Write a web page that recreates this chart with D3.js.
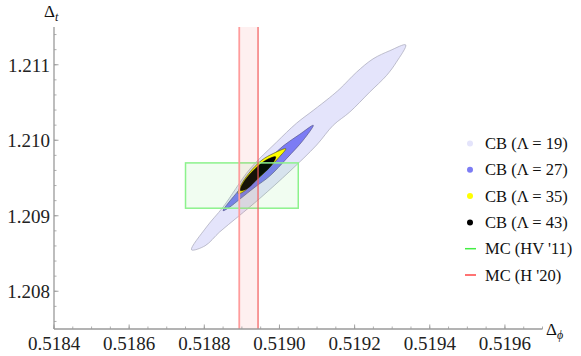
<!DOCTYPE html>
<html>
<head>
<meta charset="utf-8">
<script src="https://cdn.jsdelivr.net/npm/d3@7"></script>
<style>
  html, body { margin: 0; padding: 0; background: #fff; }
  svg { display: block; font-family: "Liberation Serif", "DejaVu Serif", serif; }
</style>
</head>
<body>
<figure id="plot" style="margin:0"></figure>
<script>
// bootstrap regions, (delta_phi, delta_t)
const lambda19 = [
  [0.518766, 1.208549], [0.518806, 1.208852], [0.518850, 1.209116], [0.518921, 1.209617],
  [0.518992, 1.209974], [0.519045, 1.210224], [0.519090, 1.210396], [0.519134, 1.210567],
  [0.519161, 1.210682], [0.519205, 1.210901], [0.519249, 1.211078], [0.519294, 1.211187],
  [0.519336, 1.211263], [0.519311, 1.211033], [0.519285, 1.210858], [0.519240, 1.210637],
  [0.519187, 1.210373], [0.519143, 1.210198], [0.519099, 1.209937], [0.519028, 1.209591],
  [0.518948, 1.209231], [0.518890, 1.208988], [0.518841, 1.208786], [0.518802, 1.208602]
];
const lambda27 = [
  [0.518850, 1.209067], [0.518890, 1.209327], [0.518930, 1.209551], [0.518969, 1.209736],
  [0.519009, 1.209921], [0.519054, 1.210079], [0.519090, 1.210198], [0.519063, 1.210000],
  [0.519020, 1.209763], [0.518974, 1.209525], [0.518935, 1.209380], [0.518895, 1.209222],
  [0.518868, 1.209116]
];
const lambda35 = [
  [0.518890, 1.209294], [0.518896, 1.209393], [0.518919, 1.209565], [0.518953, 1.209736],
  [0.518985, 1.209828], [0.519017, 1.209888], [0.518998, 1.209769], [0.518964, 1.209591],
  [0.518928, 1.209426], [0.518903, 1.209314]
];
const lambda43 = [
  [0.518895, 1.209334], [0.518903, 1.209433], [0.518926, 1.209578], [0.518961, 1.209730],
  [0.518990, 1.209782], [0.518979, 1.209670], [0.518943, 1.209495], [0.518913, 1.209354]
];

// Monte Carlo results: centre and error
const mcHV11 = { phi: 0.51890, phiErr: 0.00015, t: 1.2094, tErr: 0.0003 };
const mcH20 = { phi: 0.518918, phiErr: 0.000025 };

const xTicks = [0.5184, 0.5186, 0.5188, 0.5190, 0.5192, 0.5194, 0.5196];
const yTicks = [1.208, 1.209, 1.210, 1.211];

const regionLabels = ["CB (Λ = 19)", "CB (Λ = 27)", "CB (Λ = 35)", "CB (Λ = 43)"];
const mcLabels = ["MC (HV '11)", "MC (H '20)"];

const width = 581, height = 356;

const svg = d3.select("figure#plot")
  .append("svg")
  .attr("width", width)
  .attr("height", height);

const x = d3.scaleLinear().domain([0.5184, 0.5197]).range([54, 542.5]);
const y = d3.scaleLinear().domain([1.2075, 1.2115]).range([329, 27]);

const line = d3.line()
  .x(d => x(d[0]))
  .y(d => y(d[1]))
  .curve(d3.curveCatmullRomClosed.alpha(0.5));

// regions, outermost first
const regionStyles = [
  { fill: "#e4e4fb", stroke: "#a6a6b8", w: 0.7 },
  { fill: "#7c7cf4", stroke: "#5a5a8a", w: 0.7 },
  { fill: "#ffff00", stroke: "#55552a", w: 0.7 },
  { fill: "#000000", stroke: "#000000", w: 0.3 }
];
[lambda19, lambda27, lambda35, lambda43].forEach((pts, i) => {
  svg.append("path")
    .attr("d", line(pts))
    .attr("fill", regionStyles[i].fill)
    .attr("stroke", regionStyles[i].stroke)
    .attr("stroke-width", regionStyles[i].w)
    .attr("stroke-linejoin", "round");
});

// HV '11 box
svg.append("rect")
  .attr("x", x(mcHV11.phi - mcHV11.phiErr))
  .attr("y", y(mcHV11.t + mcHV11.tErr))
  .attr("width", x(mcHV11.phi + mcHV11.phiErr) - x(mcHV11.phi - mcHV11.phiErr))
  .attr("height", y(mcHV11.t - mcHV11.tErr) - y(mcHV11.t + mcHV11.tErr))
  .attr("fill", "rgba(60,230,60,0.07)")
  .attr("stroke", "#8cf28c")
  .attr("stroke-width", 1.5);

// H '20 band
const y0 = y.range()[0], y1 = y.range()[1];
svg.append("rect")
  .attr("x", x(mcH20.phi - mcH20.phiErr))
  .attr("y", y1)
  .attr("width", x(mcH20.phi + mcH20.phiErr) - x(mcH20.phi - mcH20.phiErr))
  .attr("height", y0 - y1)
  .attr("fill", "rgba(240,60,60,0.08)")
  .attr("stroke", "none");
[mcH20.phi - mcH20.phiErr, mcH20.phi + mcH20.phiErr].forEach((v, i) => {
  svg.append("line")
    .attr("x1", x(v)).attr("x2", x(v))
    .attr("y1", y1).attr("y2", y0)
    .attr("stroke", i === 0 ? "#ff9c9c" : "#f25a5a")
    .attr("stroke-width", i === 0 ? 1.8 : 1.2);
});

// axes (Mathematica style, ticks pointing inward)
const axisColor = "#9a9a9a";
const xAxis = svg.append("g").attr("transform", "translate(0," + y0 + ")");
xAxis.append("line")
  .attr("x1", x.range()[0]).attr("x2", x.range()[1])
  .attr("stroke", axisColor).attr("stroke-width", 1.3);
xAxis.selectAll("line.minor")
  .data(d3.range(0.51840, 0.51971, 0.00005))
  .enter().append("line")
  .attr("x1", d => x(d)).attr("x2", d => x(d))
  .attr("y1", 0).attr("y2", -2.5)
  .attr("stroke", axisColor).attr("stroke-width", 0.8);
xAxis.selectAll("line.major")
  .data(xTicks)
  .enter().append("line")
  .attr("x1", d => x(d)).attr("x2", d => x(d))
  .attr("y1", 0).attr("y2", -4.5)
  .attr("stroke", axisColor).attr("stroke-width", 0.9);
xAxis.selectAll("text")
  .data(xTicks)
  .enter().append("text")
  .attr("x", d => x(d))
  .attr("y", 21)
  .attr("text-anchor", "middle")
  .attr("font-size", 19)
  .attr("fill", "#222")
  .text(d => d3.format(".4f")(d));

const yAxis = svg.append("g").attr("transform", "translate(" + x.range()[0] + ",0)");
yAxis.append("line")
  .attr("y1", y0).attr("y2", y1)
  .attr("stroke", axisColor).attr("stroke-width", 1.3);
yAxis.selectAll("line.minor")
  .data(d3.range(1.2076, 1.21151, 0.0002))
  .enter().append("line")
  .attr("y1", d => y(d)).attr("y2", d => y(d))
  .attr("x1", 0).attr("x2", 2.5)
  .attr("stroke", axisColor).attr("stroke-width", 0.8);
yAxis.selectAll("line.major")
  .data(yTicks)
  .enter().append("line")
  .attr("y1", d => y(d)).attr("y2", d => y(d))
  .attr("x1", 0).attr("x2", 4.5)
  .attr("stroke", axisColor).attr("stroke-width", 0.9);
yAxis.selectAll("text")
  .data(yTicks)
  .enter().append("text")
  .attr("x", -4)
  .attr("y", d => y(d) + 7)
  .attr("text-anchor", "end")
  .attr("font-size", 19)
  .attr("fill", "#222")
  .text(d => d3.format(".3f")(d));

// axis labels
const yLabel = svg.append("text")
  .attr("x", 44).attr("y", 17)
  .attr("font-size", 17)
  .attr("fill", "#111")
  .text("Δ");
yLabel.append("tspan")
  .attr("dy", 4).attr("font-size", 12).attr("font-style", "italic")
  .text("t");

const xLabel = svg.append("text")
  .attr("x", 546).attr("y", 335)
  .attr("font-size", 17)
  .attr("fill", "#111")
  .text("Δ");
xLabel.append("tspan")
  .attr("dy", 4).attr("font-size", 12).attr("font-style", "italic")
  .text("ϕ");

// legend
const legend = svg.append("g");
const rowY = i => 143.5 + i * 26.3;
regionLabels.forEach((lab, i) => {
  legend.append("circle")
    .attr("cx", 470).attr("cy", rowY(i)).attr("r", 3)
    .attr("fill", regionStyles[i].fill);
  legend.append("text")
    .attr("x", 485).attr("y", rowY(i) + 5.5)
    .attr("font-size", 16.5).attr("fill", "#111")
    .text(lab);
});
const mcColors = ["#44ee44", "#ff4444"];
mcLabels.forEach((lab, j) => {
  const i = regionLabels.length + j;
  legend.append("line")
    .attr("x1", 465).attr("x2", 476)
    .attr("y1", rowY(i)).attr("y2", rowY(i))
    .attr("stroke", mcColors[j]).attr("stroke-width", 1.5);
  legend.append("text")
    .attr("x", 485).attr("y", rowY(i) + 5.5)
    .attr("font-size", 16.5).attr("fill", "#111")
    .text(lab);
});
</script>
</body>
</html>
